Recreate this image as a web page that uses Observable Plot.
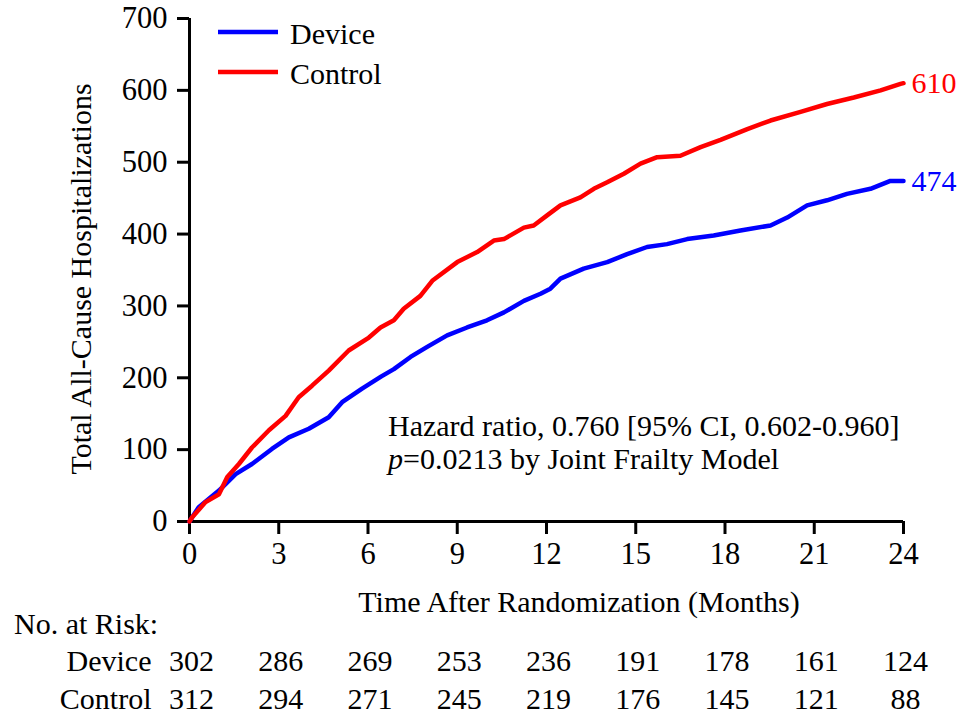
<!DOCTYPE html>
<html><head><meta charset="utf-8">
<script src="https://cdn.jsdelivr.net/npm/d3@7"></script>
<script src="https://cdn.jsdelivr.net/npm/@observablehq/plot@0.6"></script>
<style>
body{margin:0;background:#fff;}
#wrap{position:relative;width:963px;height:715px;overflow:hidden;background:#fff;font-family:"Liberation Serif","Times New Roman",serif;}
#wrap > svg{position:absolute;left:0;}
</style></head><body><div id="wrap"></div>
<script>
// ---- data ----
const groups = ["Device", "Control"];
const groupColors = ["#0000ff", "#ff0000"];

const deviceMonths = [0, 0.31, 0.99, 1.55, 2.1, 2.77, 3.34, 4.01, 4.68, 5.13, 5.8, 6.45, 6.87, 7.43, 7.99, 8.66, 9.33, 10.0, 10.57, 11.24, 11.8, 12.13, 12.47, 13.25, 14.04, 14.71, 15.38, 16.05, 16.73, 17.62, 18.52, 19.53, 20.09, 20.76, 21.43, 22.1, 22.89, 23.56, 24];
const deviceValues = [0, 20, 43, 66, 80, 101, 117, 129, 145, 166, 185, 202, 212, 229, 243, 259, 270, 280, 291, 307, 317, 324, 338, 352, 361, 372, 382, 386, 393, 398, 405, 412, 423, 440, 447, 456, 463, 474, 474];

const controlMonths = [0, 0.09, 0.54, 0.99, 1.27, 1.66, 2.1, 2.67, 3.23, 3.67, 4.12, 4.68, 5.35, 6.03, 6.42, 6.87, 7.2, 7.76, 8.16, 9.0, 9.67, 10.23, 10.57, 11.24, 11.57, 12.02, 12.47, 13.14, 13.59, 14.04, 14.6, 15.16, 15.72, 16.5, 17.18, 17.85, 18.75, 19.53, 20.54, 21.43, 22.33, 23.23, 23.9, 24];
const controlValues = [0, 6, 27, 38, 62, 80, 103, 127, 147, 173, 189, 210, 238, 256, 270, 280, 296, 314, 335, 361, 375, 391, 393, 409, 412, 426, 440, 451, 463, 472, 484, 498, 507, 509, 521, 531, 546, 558, 570, 581, 590, 600, 609, 610];

const endLabels = ["474", "610"];

const xTicks = [0, 3, 6, 9, 12, 15, 18, 21, 24];
const yTicks = [0, 100, 200, 300, 400, 500, 600, 700];

const riskMonths = [0, 3, 6, 9, 12, 15, 18, 21, 24];
const deviceRisk = [302, 286, 269, 253, 236, 191, 178, 161, 124];
const controlRisk = [312, 294, 271, 245, 219, 176, 145, 121, 88];

const xTitle = "Time After Randomization (Months)";
const yTitle = "Total All-Cause Hospitalizations";
const riskTitle = "No. at Risk:";
const noteLines = ["Hazard ratio, 0.760 [95% CI, 0.602-0.960]", "=0.0213 by Joint Frailty Model"];

// ---- build ----
const series = [
  ...deviceMonths.map((m, i) => ({group: "Device", month: m, value: deviceValues[i]})),
  ...controlMonths.map((m, i) => ({group: "Control", month: m, value: controlValues[i]}))
];
const ends = [
  {group: "Device", month: deviceMonths[deviceMonths.length - 1], value: deviceValues[deviceValues.length - 1], label: endLabels[0]},
  {group: "Control", month: controlMonths[controlMonths.length - 1], value: controlValues[controlValues.length - 1], label: endLabels[1]}
];
const font = "Liberation Serif, Times New Roman, serif";

const main = Plot.plot({
  width: 963, height: 575,
  marginTop: 18, marginLeft: 189, marginRight: 60, marginBottom: 54,
  style: {fontFamily: font, fontSize: "30px", color: "#000", background: "transparent", overflow: "visible"},
  x: {domain: [0, 24], label: null},
  y: {domain: [0, 700], label: null},
  color: {domain: groups, range: groupColors},
  marks: [
    Plot.axisX({ticks: xTicks, tickSize: 13, tickPadding: 8, strokeWidth: 3, fontSize: 30.5, label: null}),
    Plot.axisY({ticks: yTicks, tickSize: 12, tickPadding: 10, strokeWidth: 3, fontSize: 30.5, label: null}),
    Plot.ruleX([0], {strokeWidth: 3}),
    Plot.ruleY([0], {strokeWidth: 3}),
    Plot.line(series, {x: "month", y: "value", z: "group", stroke: "group", strokeWidth: 4.5}),
    Plot.text(ends, {x: "month", y: "value", text: "label", fill: "group", dx: 8, textAnchor: "start", fontSize: 30})
  ]
});
main.style.top = "0px";

const riskRows = [
  ...riskMonths.map((m, i) => ({group: "Device", month: m, n: String(deviceRisk[i])})),
  ...riskMonths.map((m, i) => ({group: "Control", month: m, n: String(controlRisk[i])}))
];
const risk = Plot.plot({
  width: 963, height: 85,
  marginTop: 0, marginLeft: 189, marginRight: 60, marginBottom: 0,
  style: {fontFamily: font, fontSize: "30px", color: "#000", background: "transparent", overflow: "visible"},
  x: {domain: [0, 24], axis: null},
  y: {type: "point", domain: groups, range: [31, 69], padding: 0, axis: null},
  marks: [
    Plot.text(riskRows, {x: "month", y: "group", text: "n", fontSize: 30, dx: 2}),
    Plot.text(groups, {x: () => 0, y: d => d, text: d => d, fontSize: 30, textAnchor: "end", dx: -38})
  ]
});
risk.style.top = "630px";

const wrap = document.getElementById("wrap");
wrap.appendChild(main);
wrap.appendChild(risk);

// overlay: titles, legend, annotation
const ns = "http://www.w3.org/2000/svg";
const ov = document.createElementNS(ns, "svg");
ov.setAttribute("width", 963); ov.setAttribute("height", 715);
ov.style.top = "0px";
ov.setAttribute("font-family", font);
ov.setAttribute("font-size", "30");
function txt(s, x, y, attrs = {}) {
  const t = document.createElementNS(ns, "text");
  t.setAttribute("x", x); t.setAttribute("y", y);
  for (const k in attrs) t.setAttribute(k, attrs[k]);
  t.textContent = s; ov.appendChild(t); return t;
}
function ln(x1, y1, x2, y2, color) {
  const l = document.createElementNS(ns, "line");
  l.setAttribute("x1", x1); l.setAttribute("y1", y1); l.setAttribute("x2", x2); l.setAttribute("y2", y2);
  l.setAttribute("stroke", color); l.setAttribute("stroke-width", 4.5);
  ov.appendChild(l);
}
// legend
groups.forEach((g, i) => {
  ln(218, 32 + 40 * i, 278, 32 + 40 * i, groupColors[i]);
  txt(g, 290, 44 + 40 * i);
});
// y title
txt(yTitle, 0, 0, {"text-anchor": "middle", transform: "translate(91,279) rotate(-90)"});
// x title
txt(xTitle, 579, 612, {"text-anchor": "middle"});
// at-risk heading
txt(riskTitle, 14, 634);
// annotation
txt(noteLines[0], 388, 436);
const t2 = txt("", 388, 469);
const ip = document.createElementNS(ns, "tspan"); ip.setAttribute("font-style", "italic"); ip.textContent = "p"; t2.appendChild(ip);
const rest = document.createElementNS(ns, "tspan"); rest.textContent = noteLines[1]; t2.appendChild(rest);
wrap.appendChild(ov);
</script>
</body></html>
